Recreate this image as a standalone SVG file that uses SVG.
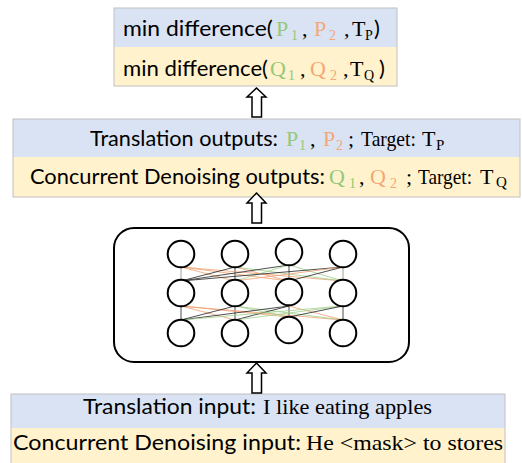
<svg xmlns="http://www.w3.org/2000/svg" width="522" height="463" viewBox="0 0 522 463">
<style>
.blue{fill:#dae3f3}
.yel{fill:#fff2cc}
.frame{fill:none;stroke:#c0c0c0;stroke-width:1}
.s{font-family:Lato,"Liberation Sans",sans-serif;font-size:22px;fill:#000}
.r{font-family:"Liberation Serif",serif;font-size:22px;fill:#000}
.sub{font-family:"Liberation Serif",serif;font-size:14px}
.sub2{font-family:"Liberation Serif",serif;font-size:15px}
.g{fill:#93c97a}
.o{fill:#f4a777}
.arrow{fill:#fff;stroke:#000;stroke-width:1.5;stroke-linejoin:miter}
.node{fill:#fff;stroke:#000;stroke-width:2}
.k{stroke:#222;stroke-width:0.8}
.lo{stroke:#f0a070;stroke-width:0.8}
.lg{stroke:#9fcf8a;stroke-width:0.8}
.lh{stroke:#888;stroke-width:0.8}
</style>

<g id="objective">
  <rect class="blue" x="114" y="8" width="283" height="39"/>
  <rect class="yel" x="114" y="47" width="283" height="39"/>
  <rect class="frame" x="114" y="8" width="283" height="78"/>
  <text class="s" x="123" y="36" textLength="150" lengthAdjust="spacingAndGlyphs">min difference(</text>
  <text class="r g" x="276" y="36">P</text><text class="sub g" x="291" y="40">1</text>
  <text class="r" x="302" y="36">,</text>
  <text class="r o" x="314" y="36">P</text><text class="sub o" x="329" y="40">2</text>
  <text class="r" x="344" y="36">,</text>
  <text class="r" x="352" y="36">T</text><text class="sub" x="365" y="40">P</text>
  <text class="s" x="374" y="36">)</text>

  <text class="s" x="123" y="76" textLength="145" lengthAdjust="spacingAndGlyphs">min difference(</text>
  <text class="r g" x="270" y="76">Q</text><text class="sub g" x="288" y="80">1</text>
  <text class="r" x="300" y="76">,</text>
  <text class="r o" x="310" y="76">Q</text><text class="sub o" x="330" y="80">2</text>
  <text class="r" x="343" y="76">,</text>
  <text class="r" x="350" y="76">T</text><text class="sub" x="364" y="80">Q</text>
  <text class="s" x="379" y="76">)</text>
</g>

<g id="outputs">
  <rect class="blue" x="13" y="119" width="507" height="38"/>
  <rect class="yel" x="13" y="157" width="507" height="40"/>
  <rect class="frame" x="13" y="119" width="507" height="78"/>
  <text class="s" x="90" y="146" textLength="188" lengthAdjust="spacingAndGlyphs">Translation outputs:</text>
  <text class="r g" x="286" y="146">P</text><text class="sub g" x="299" y="150">1</text>
  <text class="r" x="310" y="146">,</text>
  <text class="r o" x="323" y="146">P</text><text class="sub o" x="336" y="150">2</text>
  <text class="r" x="348" y="146">;</text>
  <text class="r" x="361" y="146" textLength="55" lengthAdjust="spacingAndGlyphs">Target:</text>
  <text class="r" x="422" y="146">T</text><text class="sub2" x="436" y="150">P</text>

  <text class="s" x="30" y="184" textLength="295" lengthAdjust="spacingAndGlyphs">Concurrent Denoising outputs:</text>
  <text class="r g" x="329" y="184">Q</text><text class="sub g" x="349" y="188">1</text>
  <text class="r" x="359" y="184">,</text>
  <text class="r o" x="370" y="184">Q</text><text class="sub o" x="390" y="188">2</text>
  <text class="r" x="406" y="184">;</text>
  <text class="r" x="418" y="184" textLength="54" lengthAdjust="spacingAndGlyphs">Target:</text>
  <text class="r" x="480" y="184">T</text><text class="sub2" x="496" y="187">Q</text>
</g>

<g id="network">
  <rect x="114" y="228" width="295" height="134" rx="20" ry="20" fill="#fff" stroke="#000" stroke-width="2"/>
  <g id="edges">
    <line class="lh" x1="181" y1="267" x2="181" y2="281"/>
    <line class="k" x1="235" y1="267" x2="235" y2="281"/>
    <line class="k" x1="289" y1="265" x2="289" y2="281"/>
    <line class="lh" x1="343" y1="267" x2="343" y2="281"/>
    <line class="lo" x1="181" y1="267" x2="235" y2="281"/>
    <line class="lo" x1="181" y1="267" x2="289" y2="281"/>
    <line class="lo" x1="181" y1="267" x2="343" y2="281"/>
    <line class="k" x1="235" y1="267" x2="181" y2="281"/>
    <line class="lo" x1="235" y1="267" x2="289" y2="281"/>
    <line class="lg" x1="235" y1="267" x2="343" y2="281"/>
    <line class="k" x1="289" y1="265" x2="181" y2="281"/>
    <line class="lg" x1="289" y1="265" x2="235" y2="281"/>
    <line class="lg" x1="289" y1="265" x2="343" y2="281"/>
    <line class="k" x1="343" y1="267" x2="181" y2="281"/>
    <line class="lo" x1="343" y1="267" x2="235" y2="281"/>
    <line class="k" x1="343" y1="267" x2="289" y2="281"/>
    <line class="k" x1="181" y1="306" x2="181" y2="320"/>
    <line class="k" x1="235" y1="306" x2="235" y2="320"/>
    <line class="k" x1="289" y1="306" x2="289" y2="317"/>
    <line class="k" x1="343" y1="306" x2="343" y2="320"/>
    <line class="lo" x1="181" y1="306" x2="235" y2="320"/>
    <line class="lo" x1="181" y1="306" x2="289" y2="317"/>
    <line class="lo" x1="181" y1="306" x2="343" y2="320"/>
    <line class="k" x1="235" y1="306" x2="181" y2="320"/>
    <line class="lg" x1="235" y1="306" x2="289" y2="317"/>
    <line class="lg" x1="235" y1="306" x2="343" y2="320"/>
    <line class="k" x1="289" y1="306" x2="181" y2="320"/>
    <line class="k" x1="289" y1="306" x2="235" y2="320"/>
    <line class="lo" x1="289" y1="306" x2="343" y2="320"/>
    <line class="lg" x1="343" y1="306" x2="181" y2="320"/>
    <line class="lg" x1="343" y1="306" x2="235" y2="320"/>
    <line class="k" x1="343" y1="306" x2="289" y2="317"/>
  </g>
  <g id="n11"><circle class="node" cx="181" cy="254" r="13.3"/></g>
  <g id="n12"><circle class="node" cx="235" cy="254" r="13.3"/></g>
  <g id="n13"><circle class="node" cx="289" cy="252" r="13.3"/></g>
  <g id="n14"><circle class="node" cx="343" cy="254" r="13.3"/></g>
  <g id="n21"><circle class="node" cx="181" cy="293" r="13.3"/></g>
  <g id="n22"><circle class="node" cx="235" cy="293" r="13.3"/></g>
  <g id="n23"><circle class="node" cx="289" cy="292" r="13.3"/></g>
  <g id="n24"><circle class="node" cx="343" cy="293" r="13.3"/></g>
  <g id="n31"><circle class="node" cx="181" cy="333" r="13.3"/></g>
  <g id="n32"><circle class="node" cx="235" cy="333" r="13.3"/></g>
  <g id="n33"><circle class="node" cx="289" cy="330" r="13.3"/></g>
  <g id="n34"><circle class="node" cx="343" cy="333" r="13.3"/></g>
</g>

<g id="inputs">
  <rect class="blue" x="11" y="394" width="494" height="34"/>
  <rect class="yel" x="11" y="428" width="494" height="35"/>
  <rect class="frame" x="11" y="394" width="494" height="70"/>
  <text class="s" x="83" y="414" textLength="173" lengthAdjust="spacingAndGlyphs">Translation input:</text>
  <text class="r" x="263" y="414" textLength="169" lengthAdjust="spacingAndGlyphs">I like eating apples</text>
  <text class="s" x="13" y="450" textLength="288" lengthAdjust="spacingAndGlyphs">Concurrent Denoising input:</text>
  <text class="r" x="306" y="450" textLength="197" lengthAdjust="spacingAndGlyphs">He &lt;mask&gt; to stores</text>
</g>

<g id="connectors">
  <path class="arrow" d="M256.5,88 L266,97 L261.5,97 L261.5,117 L252,117 L252,97 L247,97 Z"/>
  <path class="arrow" d="M256.5,193 L266,203 L261.5,203 L261.5,223 L252,223 L252,203 L247,203 Z"/>
  <path class="arrow" d="M256.5,363 L266,373 L261.5,373 L261.5,393 L252,393 L252,373 L247,373 Z"/>
</g>
</svg>
